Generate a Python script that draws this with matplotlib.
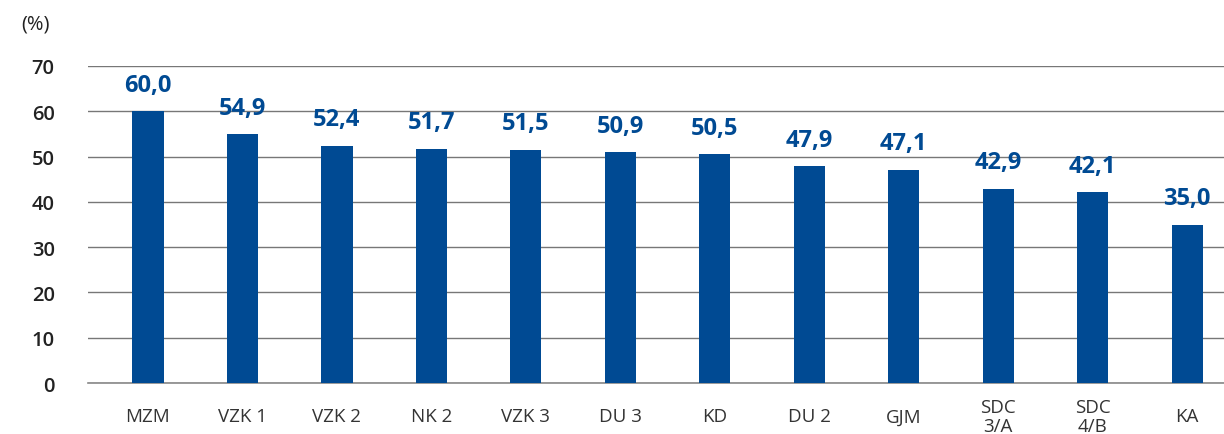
import numpy as np
import matplotlib.pyplot as plt

categories = ["MZM", "VZK 1", "VZK 2", "NK 2", "VZK 3", "DU 3", "KD", "DU 2", "GJM", "SDC\n3/A", "SDC\n4/B", "KA"]
values = [60.0, 54.9, 52.4, 51.7, 51.5, 50.9, 50.5, 47.9, 47.1, 42.9, 42.1, 35.0]
yticks = [0, 10, 20, 30, 40, 50, 60, 70]

blue = "#004a93"
plt.rcParams['font.family'] = ['Open Sans', 'DejaVu Sans']

fig = plt.figure(figsize=(12.24, 4.35), dpi=100)
ax = fig.add_axes([0.0719, 0.1172, 0.9281, 0.7288])

x = np.arange(len(categories))
ax.bar(x, values, width=0.33, color=blue, zorder=3)
for xi, v in zip(x, values):
    ax.text(xi, v + 3.2, f"{v:.1f}".replace(".", ","), ha="center", va="bottom",
            color=blue, fontsize=17, fontweight="bold")

ax.set_ylim(0, 70)
ax.set_xlim(-0.635, len(categories) - 1 + 0.39)
ax.set_yticks(yticks)
ax.set_yticklabels([str(t) for t in yticks], fontsize=14.5, fontweight="semibold", color="#222222")
ax.set_xticks(x)
ax.set_xticklabels(categories, fontsize=13.5, color="#333333", linespacing=1.12, va="center")
ax.tick_params(axis="both", length=0)
ax.tick_params(axis="x", pad=24)
ax.tick_params(axis="y", pad=24)

ax.grid(axis="y", color="#777777", linewidth=1.0, zorder=0)
for s in ["left", "right", "top"]:
    ax.spines[s].set_visible(False)
ax.spines["bottom"].set_color("#888888")
ax.spines["bottom"].set_linewidth(1.2)

fig.text(0.017, 0.943, "(%)", fontsize=14.5, color="#222222", va="center", ha="left")

fig.savefig("out.png", dpi=100)
